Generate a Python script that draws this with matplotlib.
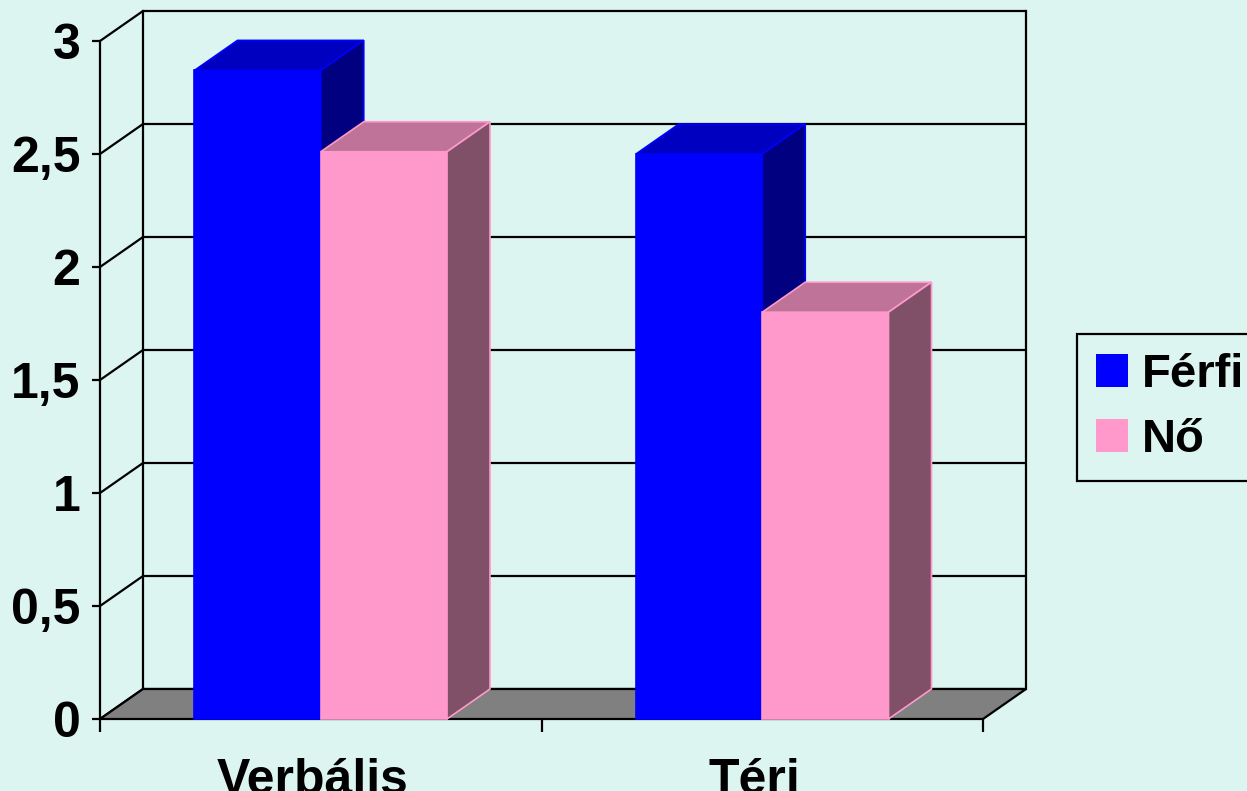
import matplotlib
matplotlib.use("Agg")
import matplotlib.pyplot as plt
from matplotlib.patches import Polygon, Patch
from matplotlib.transforms import ScaledTranslation

plt.rcParams['font.family'] = ['Liberation Sans', 'DejaVu Sans']
plt.rcParams['font.weight'] = 'bold'

# data
categories = ['Verbális', 'Téri']
series = ['Férfi', 'Nő']
ferfi = [2.87, 2.5]
no = [2.51, 1.8]
values = [ferfi, no]
yticks = [0, 0.5, 1, 1.5, 2, 2.5, 3]
ytick_labels = ['0', '0,5', '1', '1,5', '2', '2,5', '3']

bg = '#ddf5f0'
front_col = ['#0000ff', '#ff99cc']
top_col = ['#0000c0', '#c07398']
side_col = ['#000080', '#804f68']
edge_col = ['#0000ff', '#ff99cc']

W, H = 1247, 791
fig = plt.figure(figsize=(W / 100, H / 100), dpi=100, facecolor=bg)
# front plot area in pixels: x 100..983, y 719 (0) .. 41 (3)
ax = fig.add_axes([100 / W, (H - 719) / H, 883 / W, 678 / H])
ax.set_facecolor('none')
ax.set_xlim(0, len(categories))
ax.set_ylim(0, 3)

# depth of the 3d box in data units
dx = 43 / 883 * len(categories)
dy = 30 / 678 * 3
nx = len(categories)

# floor
ax.add_patch(Polygon([(0, 0), (nx, 0), (nx + dx, dy), (dx, dy)], closed=True,
                     facecolor='#808080', edgecolor='black', lw=1.6, zorder=1, clip_on=False))

# gridlines on side wall and back wall
for v in yticks:
    ax.plot([0, dx, nx + dx], [v, v + dy, v + dy], color='black', lw=1.6,
            zorder=0.5, clip_on=False, solid_capstyle='butt')
ax.plot([dx, dx], [dy, 3 + dy], color='black', lw=1.6, zorder=0.5, clip_on=False)
ax.plot([nx + dx, nx + dx], [dy, 3 + dy], color='black', lw=1.6, zorder=0.5, clip_on=False)

# bars
bar_w = 0.286
for ci in range(nx):
    x_start = ci + 0.5 - bar_w * len(series) / 2
    for si in range(len(series)):
        h = values[si][ci]
        x0 = x_start + si * bar_w
        x1 = x0 + bar_w
        z = 2 + ci * 3 + si
        ax.add_patch(Polygon([(x0, 0), (x1, 0), (x1, h), (x0, h)], closed=True,
                             facecolor=front_col[si], edgecolor=edge_col[si], lw=1.2,
                             zorder=z, clip_on=False))
        ax.add_patch(Polygon([(x0, h), (x1, h), (x1 + dx, h + dy), (x0 + dx, h + dy)], closed=True,
                             facecolor=top_col[si], edgecolor=edge_col[si], lw=1.2,
                             zorder=z, clip_on=False))
        ax.add_patch(Polygon([(x1, 0), (x1 + dx, dy), (x1 + dx, h + dy), (x1, h)], closed=True,
                             facecolor=side_col[si], edgecolor=edge_col[si], lw=1.2,
                             zorder=z, clip_on=False))

# axes styling
for s in ['top', 'right', 'bottom']:
    ax.spines[s].set_visible(False)
ax.spines['left'].set_linewidth(1.6)
ax.set_yticks(yticks)
ax.set_yticklabels(ytick_labels, fontsize=36, fontweight='bold')
ax.tick_params(axis='y', length=6, width=1.6, pad=8)

ax.set_xticks(range(nx + 1))
ax.set_xticklabels([''] * (nx + 1))
ax.set_xticks([c + 0.5 for c in range(nx)], minor=True)
ax.set_xticklabels(categories, minor=True, fontsize=36, fontweight='bold')
ax.tick_params(axis='x', which='major', length=9, width=1.6, direction='out')
ax.tick_params(axis='x', which='minor', length=0, pad=28)
# labels sit slightly left of the category centre in the original
for lbl in ax.get_xticklabels(minor=True):
    lbl.set_transform(lbl.get_transform() + ScaledTranslation(-6 / 72, 0, fig.dpi_scale_trans))

# legend
handles = [Patch(facecolor=front_col[i], edgecolor='none') for i in range(len(series))]
leg = fig.legend(handles, series, loc='upper left', bbox_to_anchor=(1077 / W, 1 - 334 / H),
                 fontsize=34, frameon=True, fancybox=False, edgecolor='black', facecolor=bg,
                 framealpha=1, handlelength=0.68, handleheight=0.68, handletextpad=0.3,
                 borderpad=0.4, labelspacing=0.45, borderaxespad=0)
leg.get_frame().set_linewidth(1.6)
for t in leg.get_texts():
    t.set_fontweight('bold')

fig.savefig('out.png', dpi=100, facecolor=bg)
